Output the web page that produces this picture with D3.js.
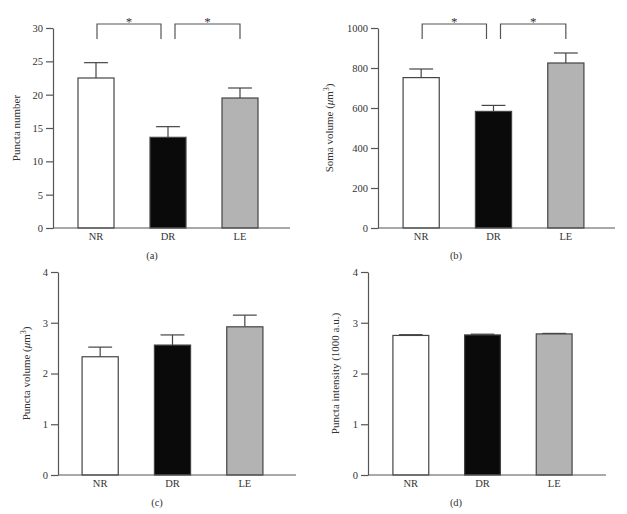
<html>
<head>
<script src="https://d3js.org/d3.v7.min.js"></script>
<style>
  body { margin: 0; background: #fff; }
  text { font-family: "Liberation Serif", "DejaVu Serif", serif; fill: #333; }
</style>
</head>
<body>
<svg id="chart" width="627" height="514"></svg>
<script>
// data
var categories = ["NR", "DR", "LE"];
var barColors = ["#ffffff", "#0a0a0a", "#b3b3b3"];

var punctaNumber = [22.5, 13.6, 19.5];
var punctaNumberErr = [2.3, 1.6, 1.5];
var punctaNumberTicks = [0, 5, 10, 15, 20, 25, 30];

var somaVolume = [752, 583, 825];
var somaVolumeErr = [43, 30, 50];
var somaVolumeTicks = [0, 200, 400, 600, 800, 1000];

var punctaVolume = [2.33, 2.56, 2.92];
var punctaVolumeErr = [0.19, 0.2, 0.23];
var punctaVolumeTicks = [0, 1, 2, 3, 4];

var punctaIntensity = [2.75, 2.76, 2.78];
var punctaIntensityErr = [0.015, 0.015, 0.01];
var punctaIntensityTicks = [0, 1, 2, 3, 4];

var sigPairs = [["NR", "DR"], ["DR", "LE"]];

var svg = d3.select("#chart");
var axisColor = "#555";

function panel(opt) {
  var g = svg.append("g");
  var n = opt.ticks.length;
  var y = d3.scaleLinear().domain([0, opt.ticks[n - 1]]).range([opt.y0, opt.y1]);
  var x = d3.scaleBand().domain(categories).range(opt.xr).paddingInner(0.5).paddingOuter(0.25);

  // y axis
  var ya = g.append("g")
    .attr("transform", "translate(" + opt.ax + ",0)")
    .call(d3.axisLeft(y).tickValues(opt.ticks).tickFormat(d3.format("d"))
      .tickSize(7).tickSizeOuter(0).tickPadding(3));
  ya.selectAll("path, line").attr("stroke", axisColor).attr("stroke-width", 1.2);
  ya.selectAll("text").style("font-size", "10.5px").attr("fill", "#333")
    .style("font-family", "Liberation Serif");

  // bars
  var rows = categories.map(function(c, i) {
    return { cat: c, v: opt.values[i], e: opt.errs[i], fill: barColors[i] };
  });
  var cap = x.bandwidth() * 0.33;
  g.selectAll(".err").data(rows).enter().append("line")
    .attr("x1", function(d) { return x(d.cat) + x.bandwidth() / 2; })
    .attr("x2", function(d) { return x(d.cat) + x.bandwidth() / 2; })
    .attr("y1", function(d) { return y(d.v); })
    .attr("y2", function(d) { return y(d.v + d.e); })
    .attr("stroke", "#444").attr("stroke-width", 1.2);
  g.selectAll(".cap").data(rows).enter().append("line")
    .attr("x1", function(d) { return x(d.cat) + x.bandwidth() / 2 - cap; })
    .attr("x2", function(d) { return x(d.cat) + x.bandwidth() / 2 + cap; })
    .attr("y1", function(d) { return y(d.v + d.e); })
    .attr("y2", function(d) { return y(d.v + d.e); })
    .attr("stroke", "#444").attr("stroke-width", 1.2);
  g.selectAll(".bar").data(rows).enter().append("rect")
    .attr("x", function(d) { return x(d.cat); })
    .attr("y", function(d) { return y(d.v); })
    .attr("width", x.bandwidth())
    .attr("height", function(d) { return y(0) - y(d.v); })
    .attr("fill", function(d) { return d.fill; })
    .attr("stroke", "#444").attr("stroke-width", 1.2);

  // x axis
  var xa = g.append("g")
    .attr("transform", "translate(0," + opt.y0 + ")")
    .call(d3.axisBottom(x).tickSize(0).tickPadding(5));
  xa.select(".domain").remove();
  xa.selectAll("text").style("font-size", "10.5px").attr("fill", "#333")
    .style("font-family", "Liberation Serif");
  g.append("line")
    .attr("x1", opt.ax).attr("x2", opt.axEnd)
    .attr("y1", opt.y0).attr("y2", opt.y0)
    .attr("stroke", axisColor).attr("stroke-width", 1.2);

  // y label
  var lab = g.append("text")
    .attr("transform", "translate(" + opt.labX + "," + (opt.y0 + opt.y1) / 2 + ") rotate(-90)")
    .attr("text-anchor", "middle")
    .style("font-size", "11px");
  lab.append("tspan").text(opt.label[0]);
  if (opt.label.length > 1) {
    lab.append("tspan").style("font-style", "italic").text(opt.label[1]);
    lab.append("tspan").text("m");
    lab.append("tspan").attr("dy", -4).style("font-size", "7.5px").text("3");
    lab.append("tspan").attr("dy", 4).text(")");
  }

  // panel letter
  g.append("text")
    .attr("x", opt.letterX).attr("y", opt.y0 + 31)
    .attr("text-anchor", "middle")
    .style("font-size", "10.5px")
    .text(opt.letter);

  // significance brackets
  if (opt.sig) {
    var top = opt.y1 - 4, leg = opt.y1 + 11;
    sigPairs.forEach(function(p) {
      var xa1 = x(p[0]) + x.bandwidth() / 2 + (p[0] === "DR" ? 7 : 1);
      var xa2 = x(p[1]) + x.bandwidth() / 2 - (p[1] === "DR" ? 7 : 0);
      g.append("path")
        .attr("d", "M" + xa1 + "," + leg + "V" + top + "H" + xa2 + "V" + leg)
        .attr("fill", "none").attr("stroke", axisColor).attr("stroke-width", 1.2);
      g.append("text")
        .attr("x", (xa1 + xa2) / 2).attr("y", top + 2)
        .attr("text-anchor", "middle")
        .style("font-size", "13px")
        .text("*");
    });
  }
}

panel({ values: punctaNumber, errs: punctaNumberErr, ticks: punctaNumberTicks,
  ax: 53, axEnd: 290, xr: [60, 276], y0: 228, y1: 28, labX: 20,
  label: ["Puncta number"], letter: "(a)", letterX: 152, sig: true });

panel({ values: somaVolume, errs: somaVolumeErr, ticks: somaVolumeTicks,
  ax: 378, axEnd: 615, xr: [385, 602], y0: 228, y1: 28, labX: 333,
  label: ["Soma volume (", "\u03bc"], letter: "(b)", letterX: 456, sig: true });

panel({ values: punctaVolume, errs: punctaVolumeErr, ticks: punctaVolumeTicks,
  ax: 58, axEnd: 296, xr: [64, 281], y0: 475, y1: 272, labX: 30,
  label: ["Puncta volume (", "\u03bc"], letter: "(c)", letterX: 157, sig: false });

panel({ values: punctaIntensity, errs: punctaIntensityErr, ticks: punctaIntensityTicks,
  ax: 368, axEnd: 606, xr: [375, 590], y0: 475, y1: 272, labX: 339,
  label: ["Puncta intensity (1000 a.u.)"], letter: "(d)", letterX: 456, sig: false });
</script>
</body>
</html>
